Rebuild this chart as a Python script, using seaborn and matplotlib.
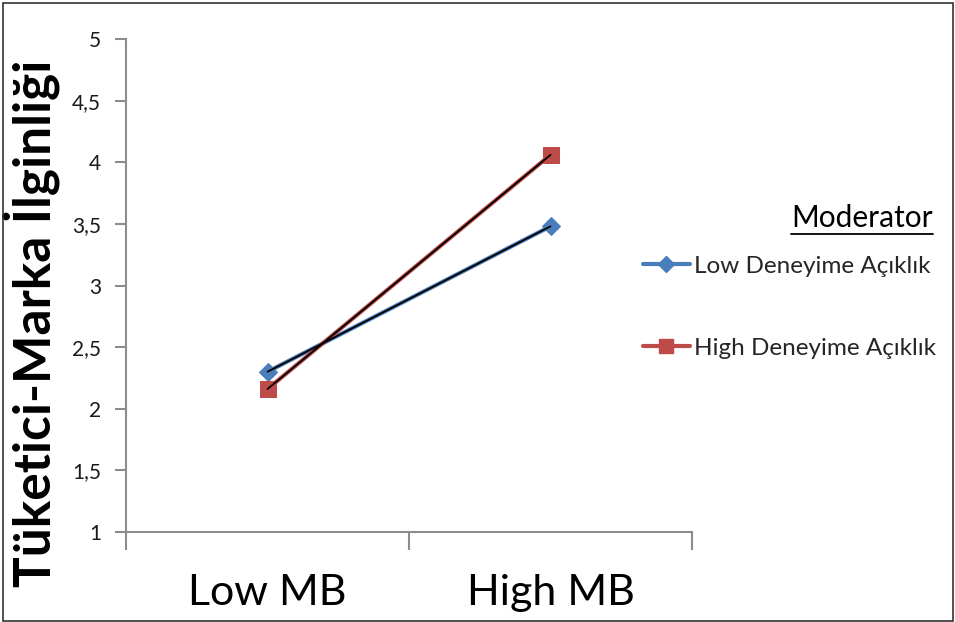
import matplotlib
matplotlib.use("Agg")
import matplotlib.pyplot as plt
from matplotlib.lines import Line2D
from matplotlib.patches import Rectangle
import seaborn as sns
import pandas as pd

categories = ["Low MB", "High MB"]
low_open = [2.30, 3.48]
high_open = [2.16, 4.06]
series_names = ["Low Deneyime Açıklık", "High Deneyime Açıklık"]
y_ticks = [1, 1.5, 2, 2.5, 3, 3.5, 4, 4.5, 5]
y_tick_labels = ["1", "1,5", "2", "2,5", "3", "3,5", "4", "4,5", "5"]
y_label = "Tüketici-Marka İlginliği"
legend_title = "Moderator"

df = pd.DataFrame({
    "x": categories * 2,
    "y": low_open + high_open,
    "series": [series_names[0]] * 2 + [series_names[1]] * 2,
})

sns.set_theme(style="white")
plt.rcParams["font.family"] = ["Lato", "DejaVu Sans"]

colors = {series_names[0]: "#4A7EBB", series_names[1]: "#BE4B48"}
markers = {series_names[0]: "D", series_names[1]: "s"}
msizes = {series_names[0]: 9, series_names[1]: 12}

fig = plt.figure(figsize=(9.55, 6.22), dpi=100)
ax = fig.add_axes([126/955, 1-532/622, (692-126)/955, (532-39)/622])

for name in series_names:
    sub = df[df["series"] == name]
    sns.lineplot(data=sub, x="x", y="y", ax=ax, color=colors[name], lw=3,
                 marker=markers[name], markersize=msizes[name],
                 markeredgecolor=colors[name], legend=False, sort=False)
for name in series_names:
    sub = df[df["series"] == name]
    sns.lineplot(data=sub, x="x", y="y", ax=ax, color="black", lw=1.3,
                 legend=False, sort=False)

ax.set_xlim(-0.5, 1.5)
ax.set_ylim(1, 5)
ax.set_yticks(y_ticks)
ax.set_yticklabels(y_tick_labels, fontsize=15, color="#1a1a1a")
ax.set_xticks([0, 1])
ax.set_xticklabels(categories, fontsize=31, color="black")
ax.set_xticks([-0.5, 0.5, 1.5], minor=True)
ax.tick_params(axis="x", which="major", length=0, pad=30)
ax.tick_params(axis="x", which="minor", length=13, width=1.5, color="#8C8C8C", direction="out", bottom=True)
ax.tick_params(axis="y", which="major", length=8, width=1.5, color="#8C8C8C", direction="out", left=True, pad=10)
ax.set_xlabel("")
ax.set_ylabel(y_label, fontsize=37, fontweight="bold", color="black")
ax.yaxis.set_label_coords((31 - 126) / 566, (532 - 323) / 493)
ax.yaxis.label.set_va("center")
for s in ["top", "right"]:
    ax.spines[s].set_visible(False)
for s in ["left", "bottom"]:
    ax.spines[s].set_color("#8C8C8C")
    ax.spines[s].set_linewidth(1.5)

handles = [Line2D([0], [0], color=colors[n], lw=3, marker=markers[n],
                  markersize=msizes[n] * 0.85, markeredgecolor=colors[n]) for n in series_names]
leg = fig.legend(handles, series_names, loc="upper left", bbox_to_anchor=(633/955, 1-246/622),
                 frameon=False, fontsize=17.5, handlelength=1.93, handletextpad=0.2,
                 labelspacing=2.5, borderaxespad=0)

t = fig.text(933/955, 1-218/622, legend_title, fontsize=21.5, ha="right", va="center", color="black")
fig.canvas.draw()
bb = t.get_window_extent().transformed(fig.transFigure.inverted())
fig.add_artist(Line2D([bb.x0, bb.x1], [bb.y0 - 0.004, bb.y0 - 0.004], color="black", lw=1.3,
                      transform=fig.transFigure))

fig.add_artist(Rectangle((3/955, 1/622), 950/955, 618/622, transform=fig.transFigure,
                         fill=False, edgecolor="#333333", lw=1.2))

fig.savefig("out.png", dpi=100)
